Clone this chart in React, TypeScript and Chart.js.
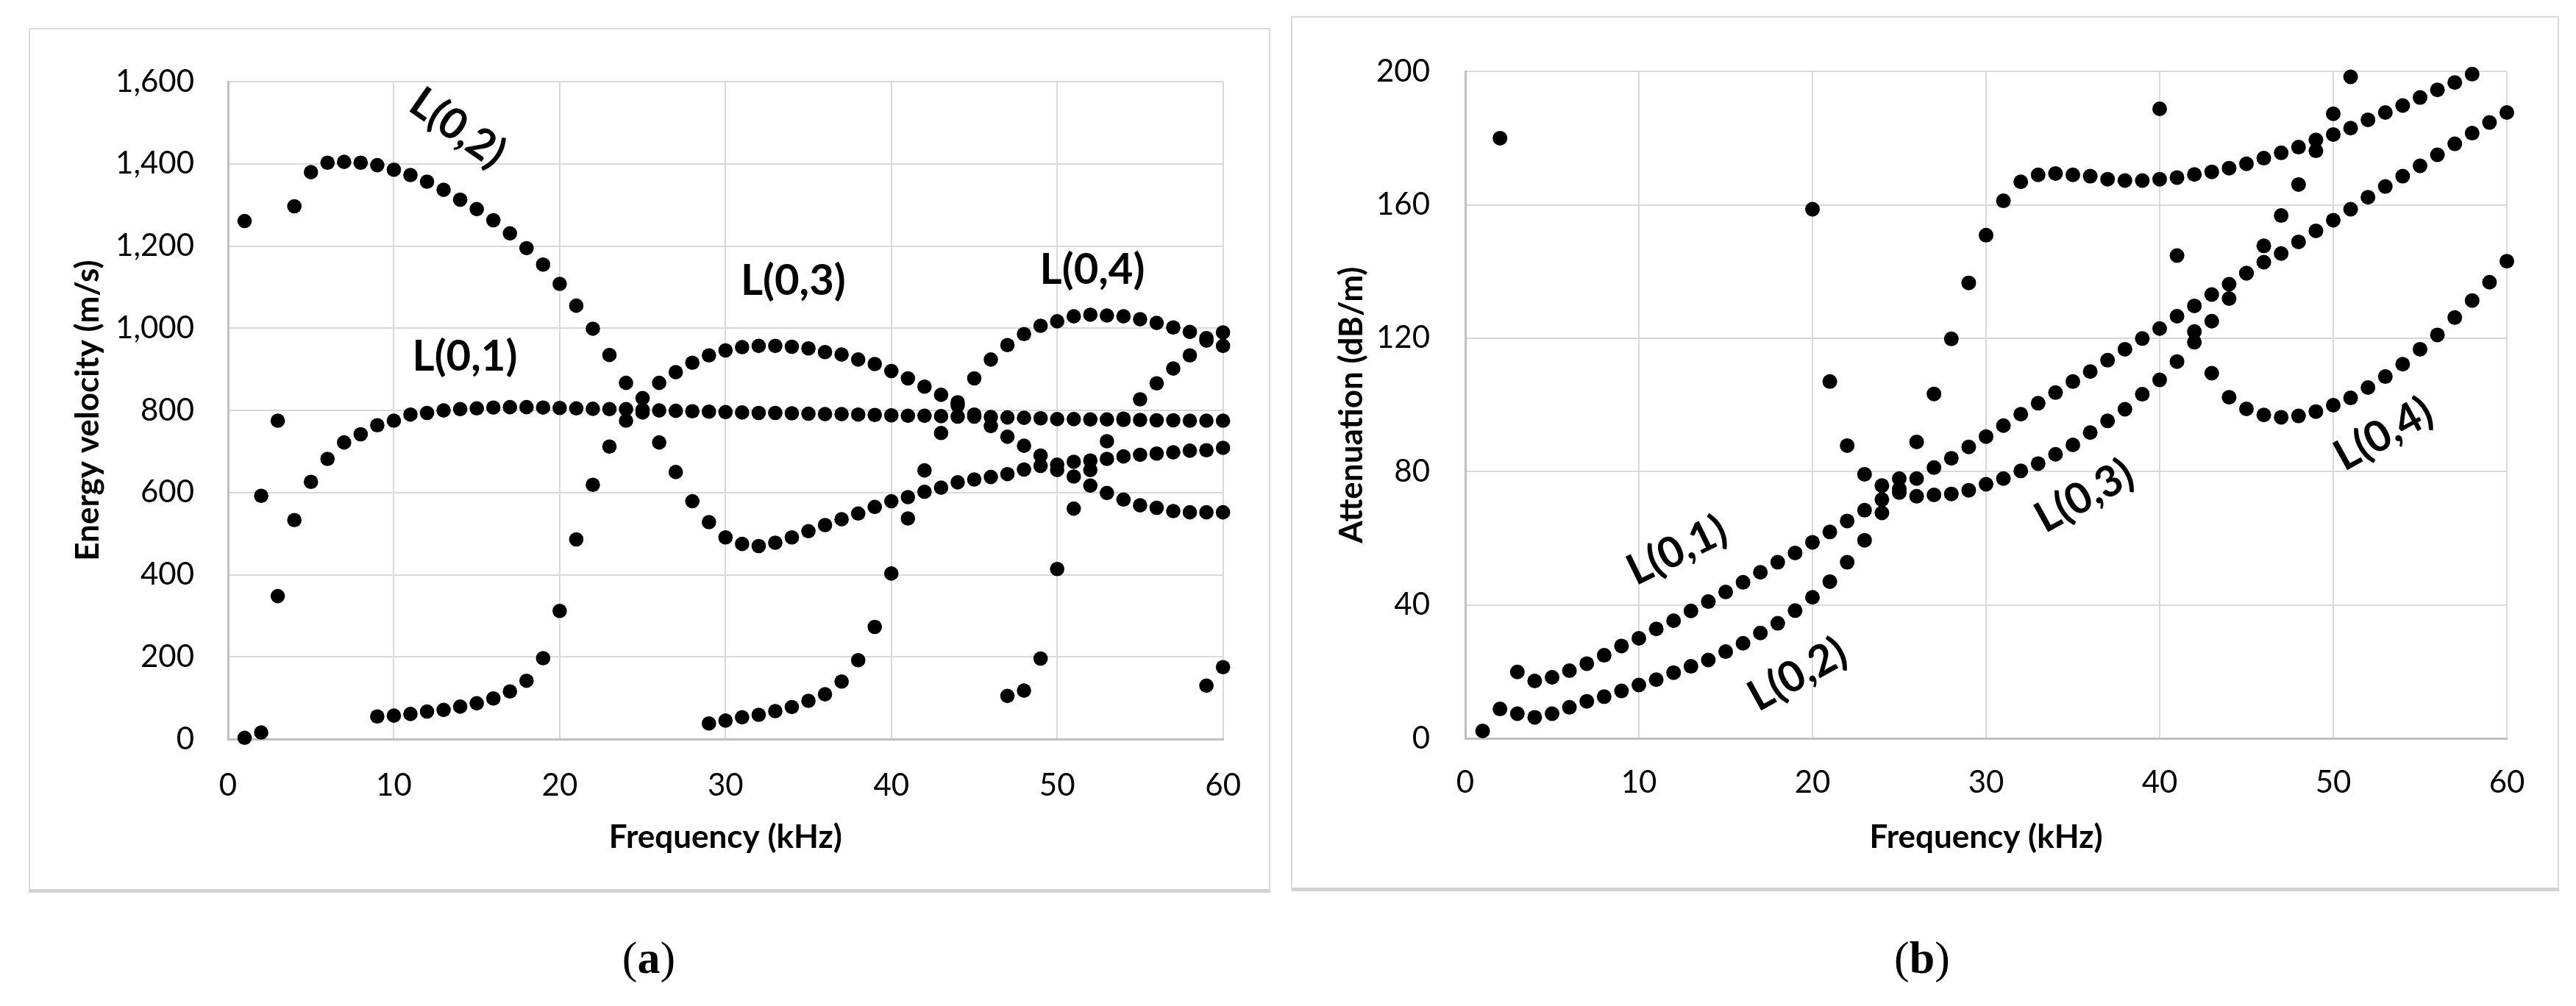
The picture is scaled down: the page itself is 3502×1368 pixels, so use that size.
import React, { useEffect, useRef } from "react";
import { Chart, registerables } from "chart.js";

Chart.register(...registerables);

// ---------- DATA ----------
const frequencies: number[] = [
  1, 2, 3, 4, 5, 6, 7, 8, 9, 10, 11, 12, 13, 14, 15, 16, 17, 18, 19, 20,
  21, 22, 23, 24, 25, 26, 27, 28, 29, 30, 31, 32, 33, 34, 35, 36, 37, 38, 39, 40,
  41, 42, 43, 44, 45, 46, 47, 48, 49, 50, 51, 52, 53, 54, 55, 56, 57, 58, 59, 60,
];

const N = null;

// (a) Energy velocity (m/s), indexed by frequency 1..60
const velocityL01: (number | null)[] = [
  3, 16, 348, 533, 626, 682, 722, 742, 764, 775,
  790, 794, 800, 803, 805, 807, 808, 808, 807, 806,
  805, 804, 803, 803, 801, 800, 799, 798, 797, 796,
  795, 794, 794, 793, 792, 791, 791, 790, 789, 788,
  787, 787, 786, 785, 785, 784, 783, 782, 781, 779,
  779, 778, 778, 777, 777, 776, 776, 775, 775, 775,
];
const velocityL02: (number | null)[] = [
  1261, 592, 775, 1297, 1380, 1403, 1405, 1403, 1397, 1386,
  1373, 1357, 1337, 1313, 1290, 1263, 1231, 1195, 1155, 1108,
  1055, 999, 935, 867, 795, 722, 650, 579, 528, 491,
  475, 470, 478, 491, 506, 521, 535, 549, 565, 579,
  589, 602, 612, 625, 632, 638, 645, 656, 665, 668,
  675, 678, 682, 688, 692, 695, 698, 702, 703, 709,
];
const velocityL03: (number | null)[] = [
  N, N, N, N, N, N, N, N, 55, 57,
  61, 67, 71, 79, 87, 99, 116, 142, 197, 312,
  486, 619, 712, 775, 830, 867, 893, 916, 934, 946,
  954, 957, 957, 955, 951, 942, 936, 924, 913, 896,
  878, 858, 838, 820, 790, 762, 736, 714, 690, 655,
  639, 617, 599, 583, 569, 563, 555, 552, 552, 552,
];
const velocityL04: (number | null)[] = [
  N, N, N, N, N, N, N, N, N, N,
  N, N, N, N, N, N, N, N, N, N,
  N, N, N, N, N, N, N, N, 38, 45,
  53, 59, 68, 78, 93, 109, 140, 192, 273, 403,
  537, 654, 745, 812, 878, 924, 959, 986, 1006, 1017,
  1029, 1033, 1031, 1029, 1022, 1013, 1002, 991, 976, 957,
];
const velocityL05: (number | null)[] = [
  N, N, N, N, N, N, N, N, N, N,
  N, N, N, N, N, N, N, N, N, N,
  N, N, N, N, N, N, N, N, N, N,
  N, N, N, N, N, N, N, N, N, N,
  N, N, N, N, N, N, 105, 118, 196, 414,
  561, 655, 725, 780, 827, 866, 902, 934, 970, 990,
];
const velocityL06: (number | null)[] = [
  N, N, N, N, N, N, N, N, N, N,
  N, N, N, N, N, N, N, N, N, N,
  N, N, N, N, N, N, N, N, N, N,
  N, N, N, N, N, N, N, N, N, N,
  N, N, N, N, N, N, N, N, N, N,
  N, N, N, N, N, N, N, N, 130, 175,
];

// (b) Attenuation (dB/m), indexed by frequency 1..60
const attenuationL01: (number | null)[] = [
  N, 180, 19.9, 17.2, 18.3, 20.3, 22.4, 24.9, 27.7, 30,
  32.8, 35.3, 38.2, 41, 43.9, 46.8, 49.8, 52.8, 55.6, 58.8,
  61.9, 65.2, 68.4, 71.6, 74.8, 77.9, 81.2, 84, 87.4, 90.5,
  93.8, 97.2, 100.5, 103.7, 107, 110, 113.4, 116.7, 119.9, 122.9,
  126.6, 129.7, 133.1, 136.2, 139.5, 142.8, 145.4, 148.9, 152.2, 155.4,
  158.7, 162.3, 165.5, 168.6, 171.7, 175, 178.3, 181.5, 184.7, 187.7,
];
const attenuationL02: (number | null)[] = [
  2.2, 8.8, 7.4, 6.3, 7.4, 9.3, 11.1, 12.5, 14.2, 16,
  17.6, 19.7, 21.6, 23.5, 26, 28.5, 31.6, 34.5, 38.3, 42.3,
  47, 52.8, 59.4, 67.6, 77.9, 88.9, 103.3, 119.8, 136.6, 150.9,
  161.2, 166.9, 169, 169.4, 169, 168.6, 167.7, 167.3, 167.3, 167.7,
  168.2, 169.1, 169.9, 171, 172.3, 174, 175.6, 177.3, 179.5, 181.1,
  183, 185.5, 187.7, 189.8, 192.2, 194.5, 196.7, 199.2, N, N,
];
const attenuationL03: (number | null)[] = [
  N, N, N, N, N, N, N, N, N, N,
  N, N, N, N, N, N, N, N, N, 158.7,
  107, 87.8, 79.2, 75.8, 73.7, 72.6, 73, 73.3, 74.4, 76.2,
  77.9, 80.2, 82.4, 85.2, 88, 91.7, 95.2, 98.7, 103.2, 107.5,
  113, 118.8, 125.1, 131.9, 139.5, 147.7, 156.8, 166.1, 176.2, 187.3,
  198.4, N, N, N, N, N, N, N, N, N,
];
const attenuationL04: (number | null)[] = [
  N, N, N, N, N, N, N, N, N, N,
  N, N, N, N, N, N, N, N, N, N,
  N, N, N, N, N, N, N, N, N, N,
  N, N, N, N, N, N, N, N, N, 188.8,
  144.8, 122, 109.5, 102.3, 98.8, 97, 96.3, 96.7, 98, 99.9,
  102.1, 105.2, 108.5, 112.2, 116.7, 121, 126.2, 131.3, 136.8, 143.1,
];

const xTicks: number[] = [0, 10, 20, 30, 40, 50, 60];
const velocityTicks: number[] = [0, 200, 400, 600, 800, 1000, 1200, 1400, 1600];
const attenuationTicks: number[] = [0, 40, 80, 120, 160, 200];

const velocityLabels = [
  { text: "L(0,2)", x: 13.84, y: 1487, angle: 35 },
  { text: "L(0,1)", x: 14.28, y: 930, angle: 0 },
  { text: "L(0,3)", x: 34.08, y: 1115, angle: 0 },
  { text: "L(0,4)", x: 52.12, y: 1142, angle: 0 },
];
const attenuationLabels = [
  { text: "L(0,1)", x: 12.2, y: 56.3, angle: -26 },
  { text: "L(0,2)", x: 19.14, y: 19.1, angle: -29 },
  { text: "L(0,3)", x: 35.66, y: 72.6, angle: -29 },
  { text: "L(0,4)", x: 52.9, y: 91.2, angle: -29 },
];

// ---------- STYLE ----------
const FONT = "Lato, 'Open Sans', sans-serif";
const GRID = "#d9d9d9";
const AXIS = "#bfbfbf";
const TICK_SIZE = 42;
const TITLE_SIZE = 44;

type Ann = { text: string; x: number; y: number; angle: number };

const modeLabelPlugin = {
  id: "modeLabels",
  afterDatasetsDraw(chart: any, _args: any, opts: any) {
    const { ctx, scales } = chart;
    const labels: Ann[] = opts.labels || [];
    ctx.save();
    ctx.fillStyle = "#000";
    ctx.font = `bold ${opts.size}px ${FONT}`;
    ctx.textAlign = "center";
    ctx.textBaseline = "middle";
    for (const l of labels) {
      const px = scales.x.getPixelForValue(l.x);
      const py = scales.y.getPixelForValue(l.y);
      ctx.save();
      ctx.translate(px, py);
      ctx.rotate((l.angle * Math.PI) / 180);
      ctx.fillText(l.text, 0, 0);
      ctx.restore();
    }
    ctx.restore();
  },
};

function toPoints(arr: (number | null)[]) {
  const pts: { x: number; y: number }[] = [];
  arr.forEach((v, i) => {
    if (v !== null) pts.push({ x: frequencies[i], y: v });
  });
  return pts;
}

type PanelCfg = {
  series: (number | null)[][];
  yTicks: number[];
  yTitle: string;
  labels: Ann[];
  yAxisWidth: number;
  xAxisHeight: number;
  padTop: number;
  padRight: number;
  yTickPad: number;
  xTickPad: number;
  yTitlePad: number;
  xTitlePad: number;
  radius: number;
};

function ScatterPanel(props: { cfg: PanelCfg; width: number; height: number; left: number; top: number }) {
  const ref = useRef<HTMLCanvasElement | null>(null);
  useEffect(() => {
    const c = props.cfg;
    const canvas = ref.current;
    if (!canvas) return;
    const yMin = c.yTicks[0];
    const yMax = c.yTicks[c.yTicks.length - 1];
    const chart = new Chart(canvas, {
      type: "scatter",
      data: {
        datasets: c.series.map((s) => ({
          data: toPoints(s),
          backgroundColor: "#000",
          borderColor: "#000",
          borderWidth: 0,
          pointRadius: c.radius,
          pointHoverRadius: c.radius,
          showLine: false,
          clip: false,
        })),
      },
      options: {
        animation: false,
        responsive: false,
        events: [],
        layout: { padding: { top: c.padTop, right: c.padRight, left: 0, bottom: 0 } },
        plugins: {
          legend: { display: false },
          tooltip: { enabled: false },
          modeLabels: { labels: c.labels, size: 58 },
        } as any,
        scales: {
          x: {
            type: "linear",
            min: xTicks[0],
            max: xTicks[xTicks.length - 1],
            afterBuildTicks: (s: any) => {
              s.ticks = xTicks.map((v) => ({ value: v }));
            },
            ticks: {
              padding: c.xTickPad,
              color: "#000",
              maxRotation: 0,
              autoSkip: false,
              font: { family: FONT, size: TICK_SIZE },
            },
            grid: { color: GRID, lineWidth: 2, drawTicks: false },
            border: { color: AXIS, width: 3 },
            title: {
              display: true,
              text: "Frequency (kHz)",
              color: "#000",
              font: { family: FONT, size: TITLE_SIZE, weight: "bold" },
              padding: { top: 0, bottom: c.xTitlePad },
            },
            afterFit: (s: any) => {
              s.height = c.xAxisHeight;
            },
          },
          y: {
            type: "linear",
            min: yMin,
            max: yMax,
            afterBuildTicks: (s: any) => {
              s.ticks = c.yTicks.map((v) => ({ value: v }));
            },
            ticks: {
              padding: c.yTickPad,
              color: "#000",
              font: { family: FONT, size: TICK_SIZE },
              callback: (v: any) => Number(v).toLocaleString("en-US"),
            },
            grid: { color: GRID, lineWidth: 2, drawTicks: false },
            border: { color: AXIS, width: 3 },
            title: {
              display: true,
              text: c.yTitle,
              color: "#000",
              font: { family: FONT, size: TITLE_SIZE, weight: "bold" },
              padding: { top: c.yTitlePad, bottom: 0 },
            },
            afterFit: (s: any) => {
              s.width = c.yAxisWidth;
            },
          },
        },
      } as any,
      plugins: [modeLabelPlugin],
    });
    return () => chart.destroy();
  }, []);
  return (
    <canvas
      ref={ref}
      width={props.width}
      height={props.height}
      style={{
        position: "absolute",
        left: props.left,
        top: props.top,
        width: props.width,
        height: props.height,
      }}
    />
  );
}

const leftCfg: PanelCfg = {
  series: [velocityL01, velocityL02, velocityL03, velocityL04, velocityL05, velocityL06],
  yTicks: velocityTicks,
  yTitle: "Energy velocity (m/s)",
  labels: velocityLabels,
  yAxisWidth: 269,
  xAxisHeight: 205,
  padTop: 46,
  padRight: 45,
  yTickPad: 46,
  xTickPad: 38,
  yTitlePad: 52,
  xTitlePad: 45,
  radius: 9.8,
};

const rightCfg: PanelCfg = {
  series: [attenuationL01, attenuationL02, attenuationL03, attenuationL04],
  yTicks: attenuationTicks,
  yTitle: "Attenuation (dB/m)",
  labels: attenuationLabels,
  yAxisWidth: 235,
  xAxisHeight: 205,
  padTop: 47,
  padRight: 68,
  yTickPad: 48,
  xTickPad: 35,
  yTitlePad: 54,
  xTitlePad: 44,
  radius: 10,
};

export default function App() {
  useEffect(() => {
    document.body.style.margin = "0";
    document.body.style.overflow = "hidden";
  }, []);
  const boxBase: React.CSSProperties = {
    position: "absolute",
    boxSizing: "border-box",
    border: "2px solid #d9d9d9",
    borderBottom: "5px solid #d2d2d2",
    background: "#fff",
  };
  const capStyle: React.CSSProperties = {
    position: "absolute",
    top: 1302,
    transform: "translate(-50%, -50%)",
    fontFamily: "'Liberation Serif', 'DejaVu Serif', serif",
    fontSize: 62,
    color: "#000",
    whiteSpace: "nowrap",
    lineHeight: 1,
  };
  return (
    <div
      style={{
        position: "absolute",
        left: 0,
        top: 0,
        width: 3502,
        height: 1368,
        background: "#fff",
        overflow: "hidden",
      }}
    >
      <div style={{ ...boxBase, left: 39, top: 38, width: 1688, height: 1176 }} />
      <div style={{ ...boxBase, left: 1755, top: 22, width: 1724, height: 1190 }} />
      <ScatterPanel cfg={leftCfg} left={41} top={40} width={1684} height={1170} />
      <ScatterPanel cfg={rightCfg} left={1757} top={24} width={1719} height={1185} />
      <div style={{ ...capStyle, left: 882 }}>
        (<b>a</b>)
      </div>
      <div style={{ ...capStyle, left: 2613 }}>
        (<b>b</b>)
      </div>
    </div>
  );
}
